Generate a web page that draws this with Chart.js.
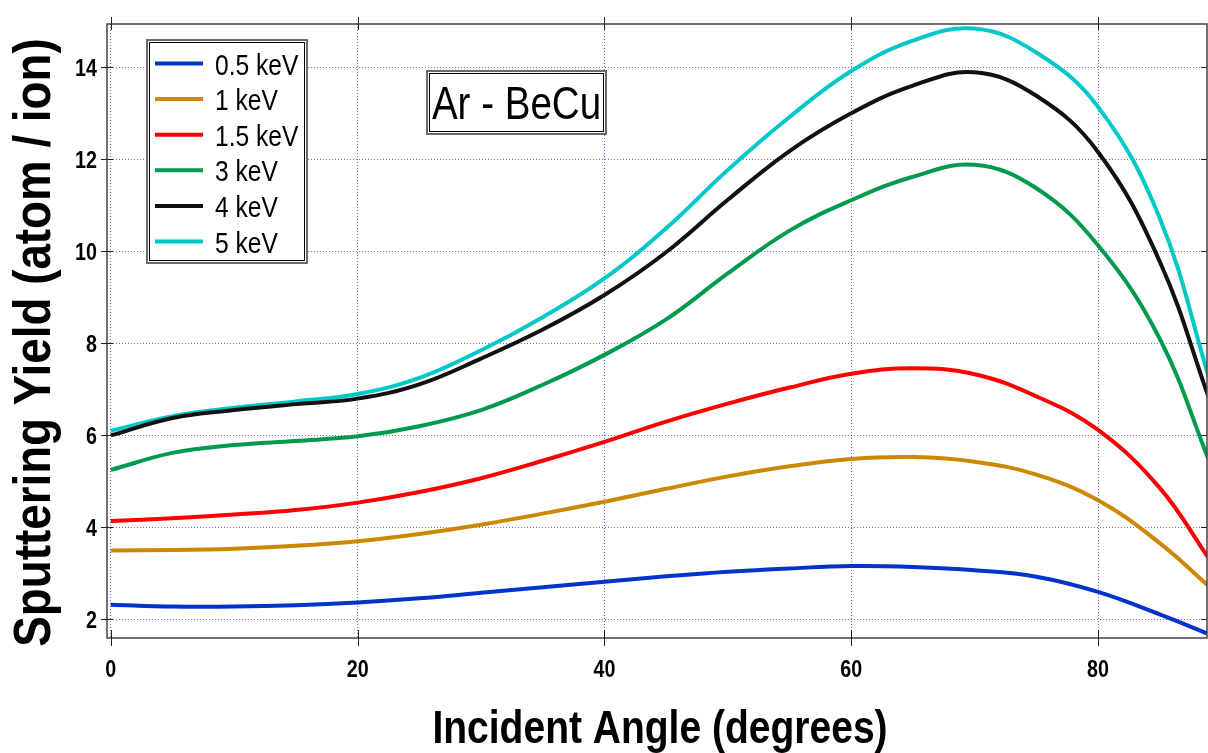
<!DOCTYPE html>
<html>
<head>
<meta charset="utf-8">
<title>Sputtering Yield - Ar on BeCu</title>
<script src="https://cdn.jsdelivr.net/npm/chart.js@4.4.0/dist/chart.umd.min.js"></script>
<style>
    html, body { margin: 0; padding: 0; background: #fff; }
    #wrap { width: 1208px; height: 753px; }
</style>
</head>
<body>
<div id="wrap"><canvas id="yieldChart" width="1208" height="753"></canvas></div>
<script>
// incident angle (degrees)
const angles = [0, 5, 10, 15, 20, 25, 30, 35, 40, 45, 50, 55, 60, 65, 70, 75, 80, 85, 89];

// sputtering yield (atom / ion) for each ion energy
const yield05keV = [2.32, 2.28, 2.28, 2.31, 2.37, 2.46, 2.58, 2.70, 2.82, 2.94, 3.04, 3.11, 3.16, 3.14, 3.07, 2.93, 2.60, 2.11, 1.68];
const yield1keV = [3.50, 3.51, 3.54, 3.60, 3.70, 3.86, 4.06, 4.30, 4.56, 4.84, 5.11, 5.33, 5.49, 5.53, 5.43, 5.15, 4.59, 3.66, 2.72];
const yield15keV = [4.14, 4.20, 4.28, 4.38, 4.54, 4.77, 5.07, 5.45, 5.86, 6.30, 6.69, 7.04, 7.34, 7.46, 7.33, 6.85, 6.12, 4.86, 3.32];
const yield3keV = [5.25, 5.62, 5.79, 5.88, 5.98, 6.20, 6.55, 7.10, 7.75, 8.52, 9.52, 10.45, 11.11, 11.62, 11.88, 11.37, 10.13, 8.10, 5.45];
const yield4keV = [6.00, 6.38, 6.55, 6.68, 6.80, 7.11, 7.67, 8.30, 9.05, 9.98, 11.12, 12.18, 13.00, 13.60, 13.89, 13.38, 12.16, 9.78, 6.80];
const yield5keV = [6.10, 6.42, 6.60, 6.74, 6.90, 7.25, 7.85, 8.57, 9.41, 10.50, 11.77, 12.92, 13.92, 14.58, 14.84, 14.32, 13.14, 10.72, 7.25];

const energyLabels = ["0.5 keV", "1 keV", "1.5 keV", "3 keV", "4 keV", "5 keV"];
const xTicks = [0, 20, 40, 60, 80];
const yTicks = [2, 4, 6, 8, 10, 12, 14];
const systemLabel = "Ar - BeCu";
const xTitle = "Incident Angle (degrees)";
const yTitle = "Sputtering Yield (atom / ion)";

const lineColors = ["#0033cc", "#cc8800", "#ff0000", "#009a4e", "#111111", "#00c8c8"];
const FONT = "'Liberation Sans', Arial, sans-serif";
const GRID = "rgba(70, 70, 250, 0.8)";

// no narrow font installed, so squeeze Liberation Sans horizontally
function narrowText(ctx, text, x, y, size, bold, align, squeeze = 0.82) {
    ctx.save();
    ctx.font = (bold ? "bold " : "") + size + "px " + FONT;
    ctx.textAlign = align;
    ctx.textBaseline = "alphabetic";
    ctx.fillStyle = "#000";
    ctx.translate(x, y);
    ctx.scale(squeeze, 1);
    ctx.fillText(text, 0, 0);
    ctx.restore();
}

function doubleBox(ctx, x, y, w, h) {
    ctx.fillStyle = "#fff";
    ctx.fillRect(x, y, w, h);
    ctx.lineWidth = 2;
    ctx.strokeStyle = "#6a6a6a";
    ctx.strokeRect(x + 1, y + 1, w - 2, h - 2);
    ctx.lineWidth = 1;
    ctx.strokeStyle = "#000";
    ctx.strokeRect(x + 3.5, y + 3.5, w - 7, h - 7);
}

// frame, crossing ticks, axis text, legend and label box
const framePlugin = {
    id: "frame",
    afterDraw(chart) {
        const { ctx, chartArea: a, scales: { x, y } } = chart;
        ctx.save();
        ctx.strokeStyle = "#444";
        ctx.lineWidth = 1.5;
        ctx.strokeRect(a.left, a.top, a.right - a.left, a.bottom - a.top);

        ctx.lineWidth = 1;
        ctx.strokeStyle = "#222";
        ctx.beginPath();
        xTicks.forEach(v => {
            const px = Math.round(x.getPixelForValue(v)) + 0.5;
            ctx.moveTo(px, a.bottom - 8);
            ctx.lineTo(px, a.bottom + 8);
            ctx.moveTo(px, a.top - 7);
            ctx.lineTo(px, a.top + 6);
        });
        yTicks.forEach(v => {
            const py = Math.round(y.getPixelForValue(v)) + 0.5;
            ctx.moveTo(a.left - 6, py);
            ctx.lineTo(a.left + 6, py);
            ctx.moveTo(a.right - 6, py);
            ctx.lineTo(a.right, py);
        });
        ctx.stroke();

        // tick labels
        xTicks.forEach(v => narrowText(ctx, String(v), x.getPixelForValue(v), 677, 24, true, "center"));
        yTicks.forEach(v => narrowText(ctx, String(v), 97, y.getPixelForValue(v) + 9, 24, true, "right"));

        // axis titles
        narrowText(ctx, xTitle, 660, 743, 47, true, "center", 0.83);
        ctx.save();
        ctx.translate(50, 342.5);
        ctx.rotate(-Math.PI / 2);
        narrowText(ctx, yTitle, 0, 0, 52, true, "center", 0.88);
        ctx.restore();

        // legend
        doubleBox(ctx, 146, 39, 162, 225);
        chart.data.datasets.forEach((ds, i) => {
            const rowY = 63.5 + i * 35.6;
            ctx.strokeStyle = ds.borderColor;
            ctx.lineWidth = 4;
            ctx.beginPath();
            ctx.moveTo(155, rowY);
            ctx.lineTo(203, rowY);
            ctx.stroke();
            narrowText(ctx, ds.label, 215, rowY + 11, 30, false, "left");
        });

        // system label
        doubleBox(ctx, 426, 70, 181, 65);
        narrowText(ctx, systemLabel, 516.5, 118.5, 47, false, "center");
        ctx.restore();
    }
};

document.addEventListener("DOMContentLoaded", () => {
    const series = [yield05keV, yield1keV, yield15keV, yield3keV, yield4keV, yield5keV];
    const ctx = document.getElementById("yieldChart").getContext("2d");

    new Chart(ctx, {
        type: "line",
        data: {
            datasets: series.map((vals, i) => ({
                label: energyLabels[i],
                data: angles.map((a, j) => ({ x: a, y: vals[j] })),
                borderColor: lineColors[i],
                backgroundColor: lineColors[i],
                borderWidth: 4,
                pointRadius: 0,
                fill: false,
                tension: 0.4,
            })),
        },
        options: {
            responsive: false,
            animation: false,
            layout: { padding: { top: 24, right: 1, left: 0, bottom: 0 } },
            plugins: {
                legend: { display: false },
                tooltip: { enabled: false },
            },
            scales: {
                x: {
                    type: "linear",
                    min: -0.31,
                    max: 88.83,
                    afterBuildTicks: s => { s.ticks = xTicks.map(v => ({ value: v })); },
                    afterFit: s => { s.height = 115; },
                    grid: { color: GRID, lineWidth: 1, drawTicks: false },
                    border: { display: false, dash: [1, 2] },
                    ticks: { display: false },
                },
                y: {
                    type: "linear",
                    min: 1.598,
                    max: 14.94,
                    afterBuildTicks: s => { s.ticks = yTicks.map(v => ({ value: v })); },
                    afterFit: s => { s.width = 107; },
                    grid: { color: GRID, lineWidth: 1, drawTicks: false },
                    border: { display: false, dash: [1, 2] },
                    ticks: { display: false },
                },
            },
        },
        plugins: [framePlugin],
    });
});
</script>
</body>
</html>
